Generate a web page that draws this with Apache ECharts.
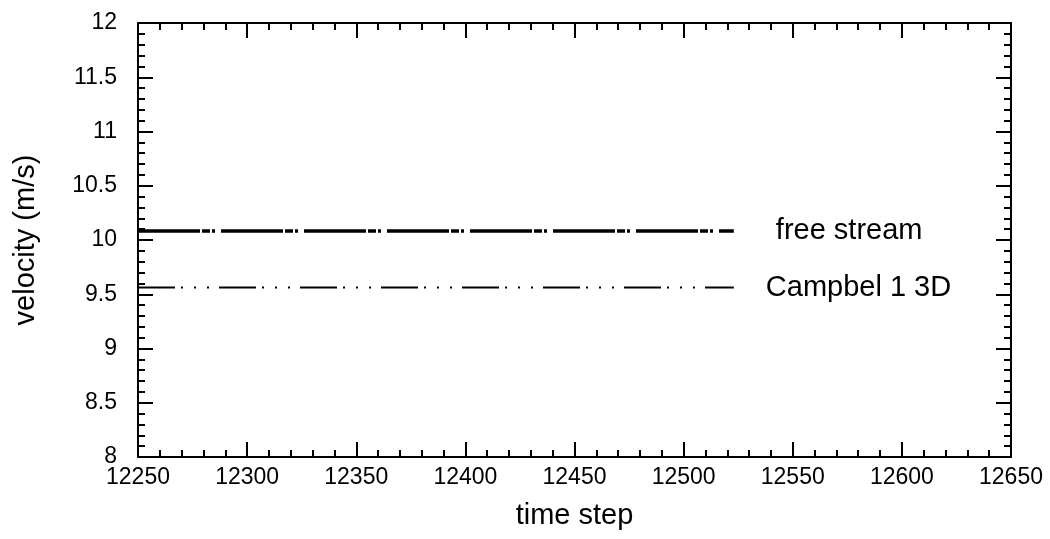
<!DOCTYPE html>
<html><head><meta charset="utf-8">
<script src="https://cdn.jsdelivr.net/npm/echarts@6/dist/echarts.min.js"></script>
<style>html,body{margin:0;padding:0;background:#fff}#c{width:1050px;height:539px}</style>
</head><body><div id="c"></div>
<script>
const xRange = [12250, 12650];
const yRange = [8, 12];
const timeSteps = [12250, 12523];
const freeStream = [10.083, 10.083];
const campbel = [9.562, 9.562];
const seriesNames = ['free stream', 'Campbel 1 3D'];

const FONT = 'Liberation Sans, Arial, Helvetica, sans-serif';
const chart = echarts.init(document.getElementById('c'), null, {renderer: 'canvas'});

function axisBase(extra) {
  return Object.assign({
    type: 'value',
    axisLine: {show: true, onZero: false, lineStyle: {color: '#000', width: 2}},
    axisTick: {show: true, inside: true, length: 15, lineStyle: {color: '#000', width: 2}},
    minorTick: {show: true, splitNumber: 5, length: 7, lineStyle: {color: '#000', width: 2}},
    splitLine: {show: false},
    minorSplitLine: {show: false}
  }, extra);
}

const option = {
  animation: false,
  backgroundColor: '#fff',
  grid: {left: 138, right: 39, top: 23, bottom: 82},
  xAxis: [
    axisBase({min: xRange[0], max: xRange[1], interval: 50, position: 'bottom',
      name: 'time step', nameLocation: 'middle', nameGap: 44,
      nameTextStyle: {color: '#000', fontSize: 29, fontFamily: FONT},
      axisLabel: {color: '#000', fontSize: 23, fontFamily: FONT, margin: 9, formatter: v => String(v)}}),
    axisBase({min: xRange[0], max: xRange[1], interval: 50, position: 'top',
      axisLabel: {show: false}})
  ],
  yAxis: [
    axisBase({min: yRange[0], max: yRange[1], interval: 0.5, position: 'left',
      name: 'velocity (m/s)', nameLocation: 'middle', nameGap: 98,
      nameTextStyle: {color: '#000', fontSize: 29, fontFamily: FONT},
      axisLabel: {color: '#000', fontSize: 23, fontFamily: FONT, margin: 21, formatter: v => String(v)}}),
    axisBase({min: yRange[0], max: yRange[1], interval: 0.5, position: 'right',
      axisLabel: {show: false}})
  ],
  series: [
    {
      name: seriesNames[0], type: 'line', xAxisIndex: 0, yAxisIndex: 0,
      data: timeSteps.map((t, i) => [t, freeStream[i]]),
      showSymbol: false, symbol: 'none',
      lineStyle: {color: '#000', width: 3.5, type: [62, 2, 8, 2, 3, 6]},
      endLabel: {show: true, formatter: '{a}', distance: 42, color: '#000', fontSize: 29, fontFamily: FONT}
    },
    {
      name: seriesNames[1], type: 'line', xAxisIndex: 0, yAxisIndex: 0,
      data: timeSteps.map((t, i) => [t, campbel[i]]),
      showSymbol: false, symbol: 'none',
      lineStyle: {color: '#000', width: 2, type: [37, 6, 2, 11, 2, 11, 2, 10]},
      endLabel: {show: true, formatter: '{a}', distance: 32, color: '#000', fontSize: 29, fontFamily: FONT}
    }
  ]
};
chart.setOption(option);
</script></body></html>
